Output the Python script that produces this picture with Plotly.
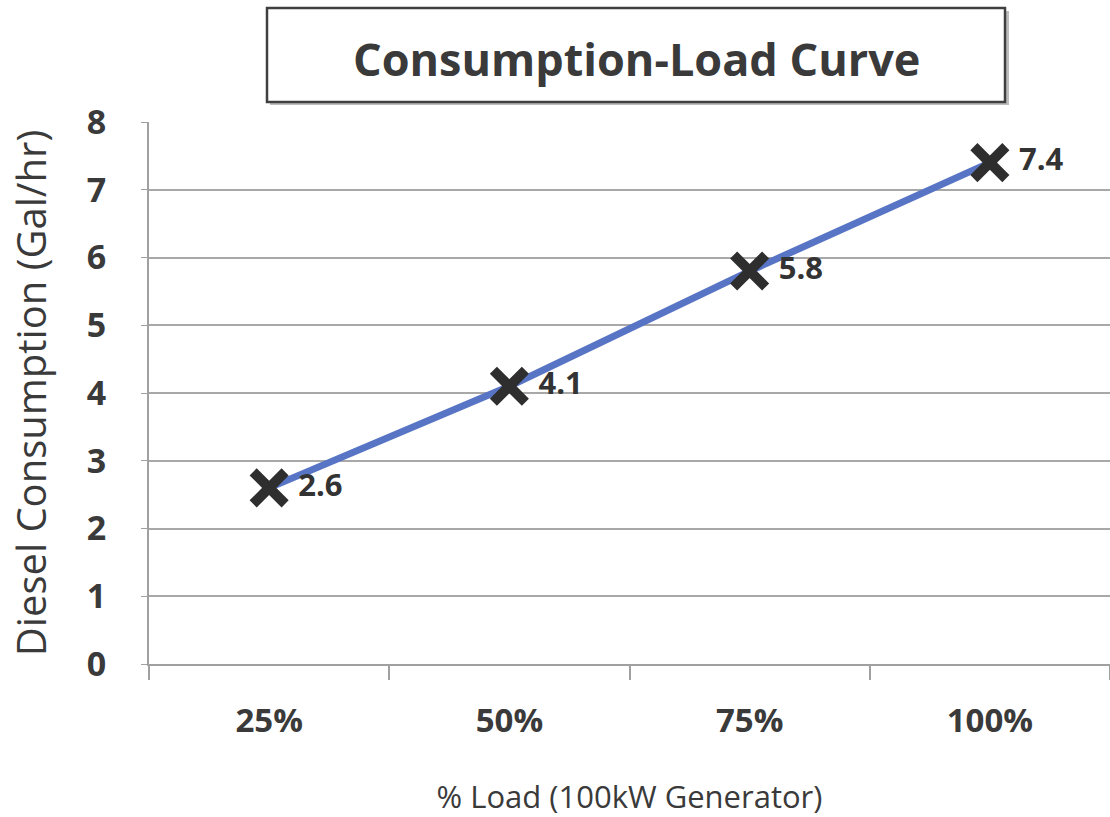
import plotly.graph_objects as go

categories = ["25%", "50%", "75%", "100%"]
consumption = [2.6, 4.1, 5.8, 7.4]
labels = ["2.6", "4.1", "5.8", "7.4"]

W, H = 1110, 817
L, R, T, B = 149, 0, 122, 153
pw = W - L - R
ph = H - T - B

def px_x(px):
    return (px - L) / pw

def px_y(py):
    return (H - B - py) / ph

fig = go.Figure()
fig.add_trace(go.Scatter(
    x=categories, y=consumption, mode="lines+markers+text",
    text=[" " + t for t in labels], textposition="middle right",
    textfont=dict(family="Open Sans", size=31, color="#333333", weight="bold"),
    line=dict(color="#5874C4", width=7),
    marker=dict(symbol="x-thin", size=32, color="#2E2E2E",
                line=dict(width=10, color="#2E2E2E")),
    cliponaxis=False, showlegend=False,
))

# title box with slight shadow
fig.add_shape(type="rect", xref="paper", yref="paper",
              x0=px_x(270), x1=px_x(1009), y0=px_y(105), y1=px_y(11),
              line=dict(width=0), fillcolor="#BDBDBD", layer="below")
fig.add_shape(type="rect", xref="paper", yref="paper",
              x0=px_x(267), x1=px_x(1005), y0=px_y(102), y1=px_y(8),
              line=dict(width=2.5, color="#404040"), fillcolor="white", layer="below")
fig.add_annotation(text="<b>Consumption-Load Curve</b>", xref="paper", yref="paper",
                   x=px_x(636), y=px_y(58), xanchor="center", yanchor="middle",
                   showarrow=False,
                   font=dict(family="Open Sans", size=45, color="#3A3A3A"))

fig.update_layout(
    width=W, height=H, margin=dict(l=L, r=R, t=T, b=B),
    paper_bgcolor="white", plot_bgcolor="white",
    xaxis=dict(type="category", tickson="boundaries", ticks="outside", ticklen=14,
               tickcolor="#A0A0A0", tickwidth=2, ticklabelstandoff=26,
               showline=True, linecolor="#A0A0A0", linewidth=2, showgrid=False,
               tickfont=dict(family="Open Sans", size=33, color="#3A3A3A", weight="bold"),
               title=dict(text="% Load (100kW Generator)", standoff=46,
                          font=dict(family="Open Sans", size=31, color="#3A3A3A")),
               range=[-0.5, 3.5]),
    yaxis=dict(range=[0, 8], dtick=1, showgrid=True, gridcolor="#A8A8A8", gridwidth=2,
               showline=True, linecolor="#A0A0A0", linewidth=2, zeroline=False,
               ticks="outside", ticklen=6, tickcolor="#A0A0A0", ticklabelstandoff=28,
               tickfont=dict(family="Open Sans", size=34, color="#3A3A3A", weight="bold"),
               title=dict(text="Diesel Consumption (Gal/hr)", standoff=28,
                          font=dict(family="Open Sans", size=40, color="#3A3A3A"))),
)

fig.write_html("out.html")
